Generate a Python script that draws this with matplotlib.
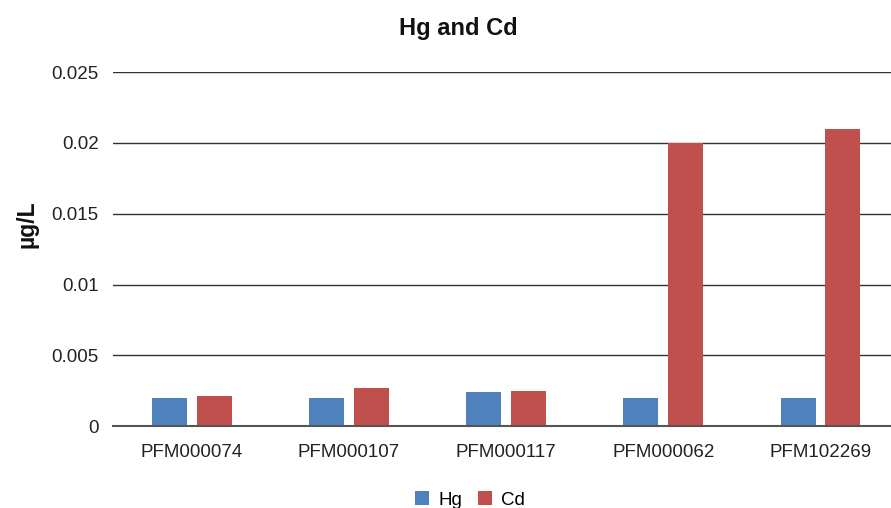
import matplotlib
matplotlib.use("Agg")
from matplotlib import pyplot as plt
import numpy as np

plt.rcParams['font.family'] = ['Liberation Sans', 'DejaVu Sans']

# Datos
muestras = ["PFM000074", "PFM000107", "PFM000117", "PFM000062", "PFM102269"]
hg = [0.002, 0.002, 0.0024, 0.002, 0.002]
cd = [0.0021, 0.0027, 0.0025, 0.02, 0.021]

figure, axes = plt.subplots(figsize=(8.91, 5.08), dpi=100)
# el area del grafico se sale un poco por la derecha
figure.subplots_adjust(left=0.127, right=899 / 891, bottom=0.161, top=0.858)

x = np.arange(len(muestras))
ancho = 0.223
axes.bar(x - 0.142, hg, ancho, color="#4F81BD", label="Hg", zorder=3)
axes.bar(x + 0.142, cd, ancho, color="#C0504D", label="Cd", zorder=3)

axes.set_xlim(-0.5, 4.5)
axes.set_ylim(0, 0.025)
axes.set_yticks([0, 0.005, 0.01, 0.015, 0.02, 0.025])
axes.set_yticklabels(["0", "0.005", "0.01", "0.015", "0.02", "0.025"])
axes.set_xticks(x)
axes.set_xticklabels(muestras)
axes.tick_params(axis="both", length=0, labelsize=13.5, colors="#222222")
axes.tick_params(axis="y", pad=10.5)
axes.tick_params(axis="x", pad=13)

axes.yaxis.grid(True, color="#333333", linewidth=1.0, zorder=0)
for lado in ["left", "right", "top"]:
    axes.spines[lado].set_visible(False)
axes.spines["bottom"].set_color("#555555")
axes.spines["bottom"].set_linewidth(1.5)
axes.spines["bottom"].set_zorder(4)

# Titulo y etiqueta del eje
figure.text(458 / 891, 1 - 29 / 508, "Hg and Cd", fontsize=17, fontweight="bold",
            ha="center", va="center", color="#111111")
figure.text(27.5 / 891, 1 - 224 / 508, "µg/L", fontsize=16.5, fontweight="bold",
            ha="center", va="center", rotation=90, color="#111111")

handles, labels = axes.get_legend_handles_labels()
figure.legend(handles, labels, loc="center", bbox_to_anchor=(470 / 891, 1 - 500 / 508), ncol=2,
              frameon=False, fontsize=13.5, handlelength=0.75, handleheight=0.75,
              columnspacing=0.8, handletextpad=0.5, borderpad=0)

plt.savefig("out.png", dpi=100)
